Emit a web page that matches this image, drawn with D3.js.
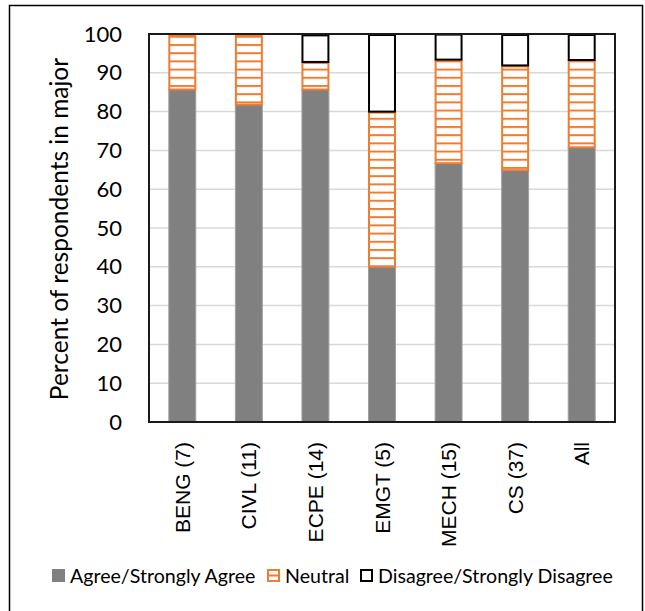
<!DOCTYPE html>
<html><head><meta charset="utf-8">
<script src="https://cdn.jsdelivr.net/npm/d3@7"></script>
<style>html,body{margin:0;padding:0;background:#fff;}</style>
</head><body>
<svg id="c" width="645" height="611"></svg>
<script>
const categories = ["BENG (7)", "CIVL (11)", "ECPE (14)", "EMGT (5)", "MECH (15)", "CS (37)", "All"];
const agree    = [85.7, 81.8, 85.7, 40.0, 66.7, 64.9, 70.8];
const neutral  = [14.3, 18.2, 7.1, 40.0, 26.7, 27.0, 22.5];
const disagree = [0.0, 0.0, 7.1, 20.0, 6.7, 8.1, 6.7];
const seriesNames = ["Agree/Strongly Agree", "Neutral", "Disagree/Strongly Disagree"];
const yTicks = [0, 10, 20, 30, 40, 50, 60, 70, 80, 90, 100];

const svg = d3.select("#c");
const m = {l: 149, t: 34, r: 615, b: 422};
const calibri = "Lato, 'Open Sans', sans-serif";

svg.append("rect").attr("x", 9.5).attr("y", 5.5).attr("width", 633).attr("height", 620)
  .attr("fill", "#fff").attr("stroke", "#000").attr("stroke-width", 1.5);

const defs = svg.append("defs");
const pat = defs.append("pattern").attr("id", "hatch").attr("patternUnits", "userSpaceOnUse")
  .attr("width", 8).attr("height", 8.2).attr("y", 3);
pat.append("rect").attr("width", 8).attr("height", 8.2).attr("fill", "#fff");
pat.append("rect").attr("y", 0).attr("width", 8).attr("height", 2).attr("fill", "#ED7D31");

const x = d3.scaleBand().domain(categories).range([m.l, m.r]).paddingInner(0.58).paddingOuter(0.29);
const y = d3.scaleLinear().domain([0, 100]).range([m.b, m.t]);

// gridlines
svg.append("g").selectAll("line").data(yTicks.filter(d => d > 0 && d < 100)).join("line")
  .attr("x1", m.l).attr("x2", m.r).attr("y1", d => y(d)).attr("y2", d => y(d))
  .attr("stroke", "#d9d9d9").attr("stroke-width", 1.5);

const rows = categories.map((c, i) => ({cat: c, agree: agree[i], neutral: neutral[i], disagree: disagree[i]}));
const stack = d3.stack().keys(["agree", "neutral", "disagree"])(rows);
const styles = {
  agree: {fill: "#808080", stroke: "#a0a0a0", sw: 1},
  neutral: {fill: "url(#hatch)", stroke: "#ED7D31", sw: 2},
  disagree: {fill: "#fff", stroke: "#000", sw: 2}
};
stack.forEach(s => {
  const st = styles[s.key];
  svg.append("g").selectAll("rect").data(s.filter(d => d[1] - d[0] > 0)).join("rect")
    .attr("x", d => x(d.data.cat) + (st.sw === 2 ? 1 : 0.5))
    .attr("width", x.bandwidth() - (st.sw === 2 ? 2 : 1))
    .attr("y", d => y(d[1]) + (s.key === "agree" ? 0 : 1))
    .attr("height", d => y(d[0]) - y(d[1]) - (s.key === "agree" ? 0 : 1))
    .attr("fill", st.fill).attr("stroke", st.stroke).attr("stroke-width", st.sw);
});

// plot border
svg.append("rect").attr("x", m.l).attr("y", m.t).attr("width", m.r - m.l).attr("height", m.b - m.t)
  .attr("fill", "none").attr("stroke", "#1a1a1a").attr("stroke-width", 2);

// y axis
const ya = svg.append("g").attr("transform", `translate(${m.l},0)`)
  .call(d3.axisLeft(y).tickValues(yTicks).tickSize(0).tickPadding(27));
ya.select(".domain").remove();
ya.selectAll("text").attr("font-family", calibri).attr("font-size", 22).attr("fill", "#000");

// x axis
const xa = svg.append("g").attr("transform", `translate(0,${m.b})`)
  .call(d3.axisBottom(x).tickSize(0));
xa.select(".domain").remove();
xa.selectAll("text")
  .attr("font-family", "'Liberation Sans', Arial, sans-serif").attr("font-size", 21).attr("fill", "#000")
  .attr("transform", "rotate(-90)").attr("text-anchor", "end")
  .attr("x", -20).attr("y", 0).attr("dy", "0.36em");

// y title
svg.append("text").attr("transform", `translate(68,${(m.t + m.b) / 2 + 1}) rotate(-90)`)
  .attr("text-anchor", "middle").attr("font-family", calibri).attr("font-size", 24.5)
  .text("Percent of respondents in major");

// legend
const lg = svg.append("g");
const legendX = [52, 267, 360];
const legStyles = [styles.agree, styles.neutral, styles.disagree];
seriesNames.forEach((n, i) => {
  const g = lg.append("g").attr("transform", `translate(${legendX[i]},569)`);
  if (i === 0) {
    g.append("rect").attr("width", 13).attr("height", 13).attr("fill", "#808080");
  } else if (i === 1) {
    g.append("rect").attr("x", 1).attr("y", 1).attr("width", 11).attr("height", 11)
      .attr("fill", "#fff").attr("stroke", "#ED7D31").attr("stroke-width", 2);
    g.append("line").attr("x1", 1).attr("x2", 12).attr("y1", 6.5).attr("y2", 6.5)
      .attr("stroke", "#ED7D31").attr("stroke-width", 2);
  } else {
    g.append("rect").attr("x", 1).attr("y", 1).attr("width", 11).attr("height", 11)
      .attr("fill", "#fff").attr("stroke", "#000").attr("stroke-width", 2);
  }
  g.append("text").attr("x", 18).attr("y", 6.5).attr("dy", "0.36em")
    .attr("font-family", calibri).attr("font-size", 19.6).attr("fill", "#000").text(n);
});
</script>
</body></html>
